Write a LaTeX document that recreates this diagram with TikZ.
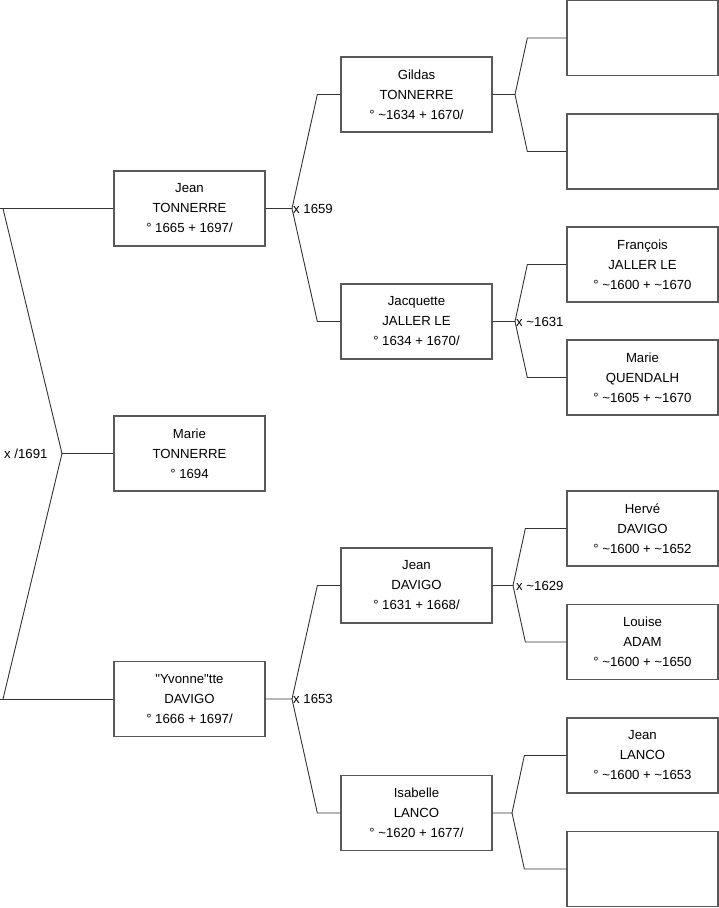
\documentclass[tikz,border=0pt]{standalone}
\usepackage{fontspec}
\setmainfont{Liberation Sans}[Ligatures=TeXOff]
\usetikzlibrary{calc}
\newcommand{\tld}{\textasciitilde}
\begin{document}
\begin{tikzpicture}[x=1pt,y=-1pt,
  person/.style={draw=black!65, line width=1.3pt, fill=white, minimum width=151pt, minimum height=75pt, inner sep=0pt, align=center, font=\fontsize{13.2}{20}\selectfont},
  conn/.style={draw=black!80, line width=0.9pt},
  mlabel/.style={anchor=west, inner sep=1pt, font=\fontsize{13.2}{20}\selectfont}]
\useasboundingbox (0,0) rectangle (719,908);
% generation 1
\node[person] (g1a) at (189.5,208.5) {Jean\\TONNERRE\\° 1665 + 1697/};
\node[person] (g1b) at (189.5,453.5) {Marie\\TONNERRE\\° 1694};
\node[person] (g1c) at (189.5,699) {"Yvonne"tte\\DAVIGO\\° 1666 + 1697/};
% generation 2
\node[person] (g2a) at (416.5,94.5) {Gildas\\TONNERRE\\° \tld1634 + 1670/};
\node[person] (g2b) at (416.5,321.5) {Jacquette\\JALLER LE\\° 1634 + 1670/};
\node[person] (g2c) at (416.5,585.5) {Jean\\DAVIGO\\° 1631 + 1668/};
\node[person] (g2d) at (416.5,813) {Isabelle\\LANCO\\° \tld1620 + 1677/};
% generation 3
\node[person] (g3a) at (642.5,38) {};
\node[person] (g3b) at (642.5,151.5) {};
\node[person] (g3c) at (642.5,264.5) {François\\JALLER LE\\° \tld1600 + \tld1670};
\node[person] (g3d) at (642.5,377.5) {Marie\\QUENDALH\\° \tld1605 + \tld1670};
\node[person] (g3e) at (642.5,528.5) {Hervé\\DAVIGO\\° \tld1600 + \tld1652};
\node[person] (g3f) at (642.5,642) {Louise\\ADAM\\° \tld1600 + \tld1650};
\node[person] (g3g) at (642.5,755.5) {Jean\\LANCO\\° \tld1600 + \tld1653};
\node[person] (g3h) at (642.5,869) {};
% root fork
\coordinate (r1) at (0,208.5);
\coordinate (r2) at (0,699);
\coordinate (rx) at (62,453.5);
\draw[conn] (r1) -- (g1a.west);
\draw[conn] (r2) -- (g1c.west);
\draw[conn] ([xshift=3]r1) -- (rx) -- ([xshift=3]r2);
\draw[conn] (rx) -- (g1b.west);
\node[mlabel] (m0) at (3,453.5) {x /1691};
% gen1 -> gen2
\coordinate (f1) at (292,208.5);
\draw[conn] (g1a.east) -- (f1) -- ([xshift=-23]g2a.west) -- (g2a.west);
\draw[conn] (f1) -- ([xshift=-23]g2b.west) -- (g2b.west);
\node[mlabel] (m1) at (f1) {x 1659};
\coordinate (f2) at (292,699);
\draw[conn] (g1c.east) -- (f2) -- ([xshift=-23]g2c.west) -- (g2c.west);
\draw[conn] (f2) -- ([xshift=-23]g2d.west) -- (g2d.west);
\node[mlabel] (m2) at (f2) {x 1653};
% gen2 -> gen3
\coordinate (f3) at (515,94.5);
\draw[conn] (g2a.east) -- (f3) -- ([xshift=-39]g3a.west) -- (g3a.west);
\draw[conn] (f3) -- ([xshift=-39]g3b.west) -- (g3b.west);
\coordinate (f4) at (515,321.5);
\draw[conn] (g2b.east) -- (f4) -- ([xshift=-39]g3c.west) -- (g3c.west);
\draw[conn] (f4) -- ([xshift=-39]g3d.west) -- (g3d.west);
\node[mlabel] (m3) at (f4) {x \tld1631};
\coordinate (f5) at (513,585.5);
\draw[conn] (g2c.east) -- (f5) -- ([xshift=-41]g3e.west) -- (g3e.west);
\draw[conn] (f5) -- ([xshift=-41]g3f.west) -- (g3f.west);
\node[mlabel] (m4) at ([xshift=2]f5) {x \tld1629};
\coordinate (f6) at (512,813);
\draw[conn] (g2d.east) -- (f6) -- ([xshift=-42]g3g.west) -- (g3g.west);
\draw[conn] (f6) -- ([xshift=-42]g3h.west) -- (g3h.west);
\end{tikzpicture}
\end{document}
